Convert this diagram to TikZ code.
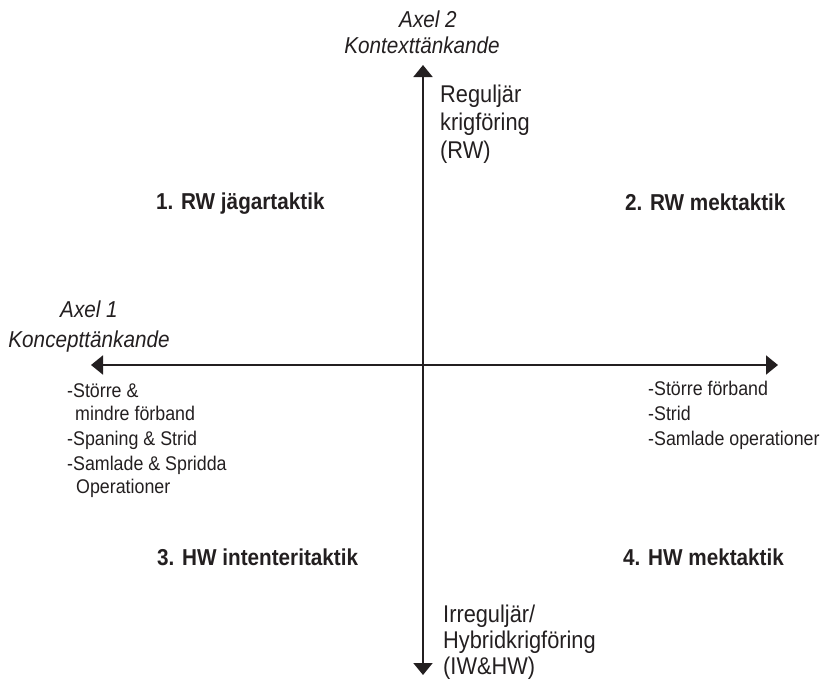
\documentclass[tikz,border=0pt]{standalone}
\usepackage{fontspec}
\setmainfont{Liberation Sans}[FakeStretch=0.9]
\usetikzlibrary{arrows.meta}
\definecolor{ink}{HTML}{231F20}
\tikzset{
  axis/.style={draw=ink, line width=2pt, -{Triangle[length=12pt,width=19pt]}},
  lbl/.style={inner sep=0pt, text=ink, font=\fontsize{19.8}{24}\selectfont, anchor=base west},
  vlbl/.style={inner sep=0pt, text=ink, font=\fontsize{24.2}{28}\selectfont, anchor=base west},
  quad/.style={inner sep=0pt, text=ink, font=\fontsize{23}{27}\selectfont\bfseries, anchor=base west},
  axname/.style={inner sep=0pt, text=ink, font=\fontsize{23}{27}\selectfont\itshape, anchor=base},
}
\begin{document}
\begin{tikzpicture}[x=1pt,y=-1pt]
\useasboundingbox (0,0) rectangle (823,681);
% axes
\coordinate (c) at (423,365);
\coordinate (left) at (91,365);
\coordinate (right) at (778,365);
\coordinate (top) at (423,65);
\coordinate (bottom) at (423,675);
\draw[axis] (c) -- (left);
\draw[axis] (c) -- (right);
\draw[axis] (c) -- (top);
\draw[axis] (c) -- (bottom);
% axis names
\node[axname] (ax2a) at (428,27) {Axel 2};
\node[axname] (ax2b) at (422,53) {Kontexttänkande};
\node[axname] (ax1a) at (89,317) {Axel 1};
\node[axname] (ax1b) at (89,347) {Koncepttänkande};
% vertical labels
\node[vlbl] (rw1) at (440,102) {Reguljär};
\node[vlbl] (rw2) at (440,130) {krigföring};
\node[vlbl] (rw3) at (440,158) {(RW)};
\node[vlbl] (iw1) at (443,622) {Irreguljär/};
\node[vlbl] (iw2) at (443,648) {Hybridkrigföring};
\node[vlbl] (iw3) at (443,674) {(IW\&HW)};
% quadrants
\node[quad] (q1) at (156,209) {1. RW jägartaktik};
\node[quad] (q2) at (625,210) {2. RW mektaktik};
\node[quad] (q3) at (157,565) {3. HW intenteritaktik};
\node[quad] (q4) at (623,565) {4. HW mektaktik};
% left list
\node[lbl] (l1) at (67,397) {-Större \&};
\node[lbl] (l2) at (75,420) {mindre förband};
\node[lbl] (l3) at (67,445) {-Spaning \& Strid};
\node[lbl] (l4) at (67,470) {-Samlade \& Spridda};
\node[lbl] (l5) at (76,493) {Operationer};
% right list
\node[lbl] (r1) at (648,395) {-Större förband};
\node[lbl] (r2) at (648,420) {-Strid};
\node[lbl] (r3) at (648,445) {-Samlade operationer};
\end{tikzpicture}
\end{document}
